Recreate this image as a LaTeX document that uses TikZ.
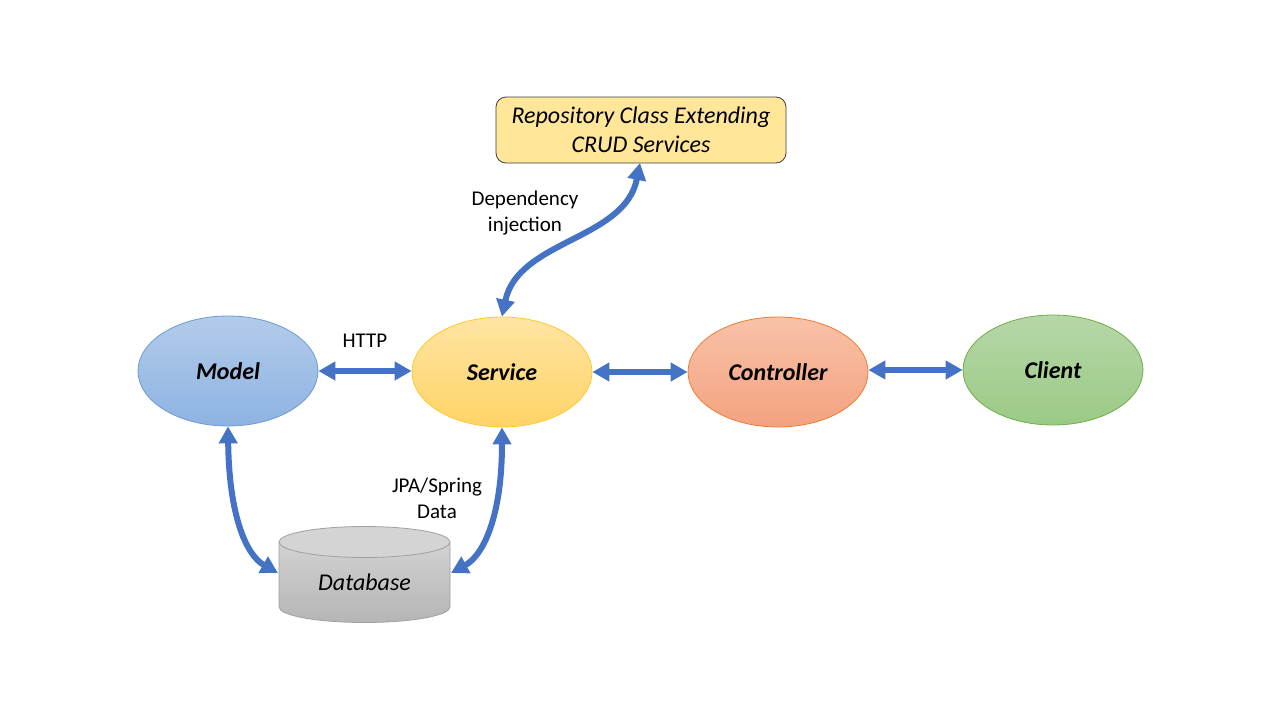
\documentclass[tikz,border=0pt]{standalone}
\usepackage{fontspec}
\setmainfont{Carlito}
\usetikzlibrary{arrows.meta,shapes.geometric}
\definecolor{arrowblue}{HTML}{4472C4}
\definecolor{modeltop}{HTML}{B3CBEA}
\definecolor{modelbot}{HTML}{8DB3E2}
\definecolor{modelline}{HTML}{6D9BD3}
\definecolor{servtop}{HTML}{FFE4A3}
\definecolor{servbot}{HTML}{FFD466}
\definecolor{servline}{HTML}{FFC82E}
\definecolor{conttop}{HTML}{F8C2A8}
\definecolor{contbot}{HTML}{F4A27F}
\definecolor{contline}{HTML}{ED7D31}
\definecolor{clitop}{HTML}{B6D7A8}
\definecolor{clibot}{HTML}{9BCA85}
\definecolor{cliline}{HTML}{70AD47}
\definecolor{repofill}{HTML}{FFE699}
\definecolor{repoline}{HTML}{404040}
\definecolor{dbtop}{HTML}{D2D2D2}
\definecolor{dbbot}{HTML}{B5B5B5}
\definecolor{dbcap}{HTML}{D4D4D4}
\definecolor{dbline}{HTML}{A0A0A0}
\tikzset{
  oval/.style={ellipse, minimum width=180pt, minimum height=110pt, inner sep=0pt,
    font=\fontsize{24}{29}\selectfont\bfseries\itshape, line width=0.8pt},
  lbl/.style={font=\fontsize{21}{26}\selectfont, align=center},
  biarrow/.style={draw=arrowblue, line width=6pt,
    {Triangle[width=18pt,length=17pt]}-{Triangle[width=18pt,length=17pt]}},
}
\begin{document}
\begin{tikzpicture}[x=1pt,y=-1pt]
\useasboundingbox (0,0) rectangle (1280,720);
\fill[white] (0,0) rectangle (1280,720);

% nodes
\node[oval, draw=modelline, top color=modeltop, bottom color=modelbot] (model) at (228,371) {Model};
\node[oval, draw=servline, top color=servtop, bottom color=servbot] (service) at (502,372) {Service};
\node[oval, draw=contline, top color=conttop, bottom color=contbot] (controller) at (778,372) {Controller};
\node[oval, draw=cliline, top color=clitop, bottom color=clibot] (client) at (1053,370) {Client};

\node[draw=repoline, fill=repofill, rounded corners=10pt, line width=0.8pt,
      minimum width=290pt, minimum height=66pt, align=center,
      font=\fontsize{24}{29}\selectfont\itshape] (repo) at (641,130)
      {Repository Class Extending\\CRUD Services};

% database cylinder
\path[top color=dbtop, bottom color=dbbot]
  (279,542) -- (279,607) arc[start angle=180, end angle=0, x radius=85.5, y radius=15.5]
  -- (450,542) -- cycle;
\draw[dbline, line width=0.8pt]
  (279,542) -- (279,607) arc[start angle=180, end angle=0, x radius=85.5, y radius=15.5]
  -- (450,542);
\draw[dbline, fill=dbcap, line width=0.8pt] (364.5,542) ellipse [x radius=85.5, y radius=15.5];
\node[font=\fontsize{24}{29}\selectfont\itshape] (db) at (364.5,582) {Database};
\coordinate (dbL) at (278,573);
\coordinate (dbR) at (451,573);
\coordinate (repoIn) at (640,163);

% connectors
\draw[biarrow] (model.east) -- (model.east -| service.west);
\draw[biarrow] (service.east) -- (controller.west);
\draw[biarrow] (controller.east |- client.west) -- (client.west);
\draw[biarrow] (service.north) .. controls (518,240) and (625,240) .. (repoIn);
\draw[biarrow] (model.south) .. controls (229,515) and (246,555) .. (dbL);
\draw[biarrow] (service.south) .. controls (502,515) and (484,555) .. (dbR);

% labels
\node[lbl] (http) at (365,341) {HTTP};
\node[lbl] (dep) at (525,213) {Dependency\\injection};
\node[lbl] (jpa) at (437,498) {JPA/Spring\\Data};
\end{tikzpicture}
\end{document}
